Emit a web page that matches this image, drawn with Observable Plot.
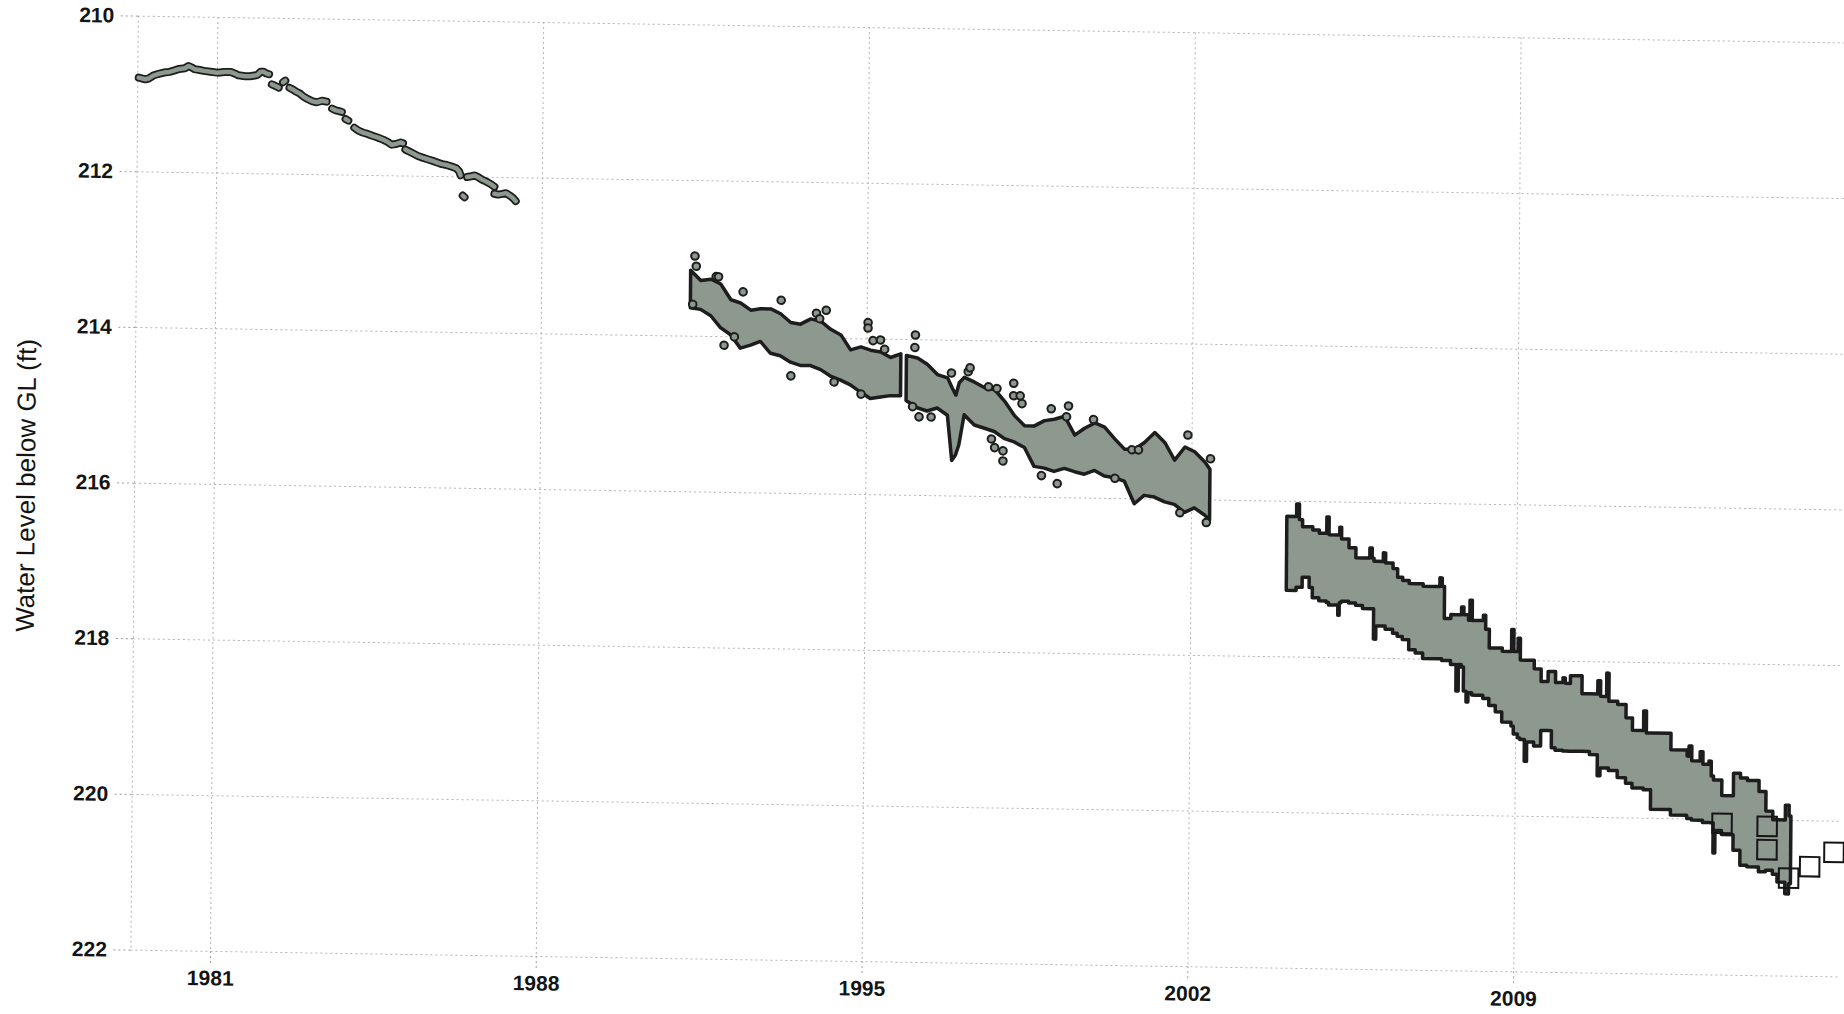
<!DOCTYPE html>
<html>
<head>
<meta charset="utf-8">
<script src="https://cdn.jsdelivr.net/npm/d3@7"></script>
<script src="https://cdn.jsdelivr.net/npm/@observablehq/plot@0.6"></script>
<style>
  html, body { margin: 0; padding: 0; background: #fff; overflow: hidden; }
  #chart svg { display: block; transform: matrix(1, 0.0157, -0.0079, 1, 0, 0); transform-origin: 922px 507px; }
  #chart g[aria-label="x-axis"] line, #chart g[aria-label="y-axis"] line,
  #chart g[aria-label="x-axis tick"], #chart g[aria-label="y-axis tick"],
  #chart g[aria-label="x-axis tick"] path, #chart g[aria-label="y-axis tick"] path {
    stroke: #9c9c9c; stroke-dasharray: 2 3;
  }
</style>
</head>
<body>
<div id="chart"></div>
<script>
// ---- axes ----
const xDomain = [1979.29, 2016.03];
const yDomain = [210, 222];
const xTicks = [1981, 1988, 1995, 2002, 2009];
const yTicks = [210, 212, 214, 216, 218, 220, 222];
const yTitle = "Water Level below GL (ft)";

// ---- 1979-1987 record (runs of measurements; piece id separates gaps) ----
const earlyYear = [1979.31,1979.45,1979.52,1979.62,1979.72,1979.85,1979.97,1980.08,1980.18,1980.30,1980.38,1980.45,1980.51,1980.62,1980.71,1980.85,1981.00,1981.15,1981.29,1981.38,1981.45,1981.60,1981.70,1981.80,1981.86,1981.93,1981.99,1982.05,1982.11,
  1982.17,1982.25,1982.32,
  1982.41,1982.46,
  1982.55,1982.62,1982.70,1982.77,1982.85,1982.94,1983.05,1983.14,1983.25,1983.35,
  1983.47,1983.55,1983.62,1983.68,
  1983.76,1983.82,
  1983.95,1984.05,1984.13,1984.25,1984.34,1984.45,1984.58,1984.68,1984.75,1984.85,1984.95,1985.00,
  1985.05,1985.12,1985.22,1985.32,1985.42,1985.53,1985.64,1985.74,1985.84,1985.94,1986.05,1986.15,1986.21,1986.24,
  1986.29,1986.33,
  1986.38,1986.47,1986.55,1986.62,1986.70,1986.81,1986.90,1986.97,
  1986.97,1987.05,1987.14,1987.22,1987.30,1987.37,1987.43];
const earlyLevel = [210.79,210.81,210.80,210.76,210.74,210.72,210.71,210.69,210.67,210.66,210.63,210.65,210.67,210.68,210.69,210.70,210.71,210.70,210.70,210.72,210.74,210.75,210.75,210.74,210.73,210.69,210.69,210.71,210.72,
  210.85,210.87,210.89,
  210.82,210.80,
  210.89,210.91,210.94,210.96,211.00,211.03,211.06,211.07,211.05,211.06,
  211.15,211.17,211.18,211.19,
  211.28,211.30,
  211.39,211.43,211.45,211.47,211.49,211.51,211.54,211.57,211.60,211.59,211.57,211.58,
  211.66,211.68,211.71,211.74,211.76,211.78,211.80,211.82,211.84,211.85,211.87,211.89,211.93,211.98,
  212.24,212.26,
  212.00,211.99,211.98,212.00,212.03,212.06,212.09,212.12,
  212.21,212.22,212.21,212.20,212.23,212.26,212.30];
const earlyPiece = [1,1,1,1,1,1,1,1,1,1,1,1,1,1,1,1,1,1,1,1,1,1,1,1,1,1,1,1,1,
  2,2,2, 3,3, 4,4,4,4,4,4,4,4,4,4, 5,5,5,5, 6,6,
  7,7,7,7,7,7,7,7,7,7,7,7,
  8,8,8,8,8,8,8,8,8,8,8,8,8,8,
  9,9, 10,10,10,10,10,10,10,10, 11,11,11,11,11,11,11];

// ---- 1991-2002 record: envelope of the dense readings ----
const midYear = [1991.21,1991.43,1991.65,1991.86,1992.08,1992.29,1992.51,1992.72,1992.94,1993.15,1993.37,1993.58,1993.80,1994.02,1994.23,1994.45,1994.66,1994.88,1995.09,1995.31,1995.52,1995.74,
  1995.86,1996.10,1996.31,1996.53,1996.75,1996.85,1996.93,1997.00,1997.11,1997.33,1997.55,1997.76,1997.98,1998.19,1998.41,1998.62,1998.84,1999.05,1999.27,1999.49,1999.70,1999.92,2000.13,2000.35,2000.56,2000.78,2000.99,2001.21,2001.43,2001.64,2001.86,2002.07,2002.29,2002.40];
const midTop = [213.16,213.29,213.27,213.33,213.53,213.57,213.66,213.64,213.64,213.70,213.81,213.83,213.76,213.79,213.89,213.96,214.15,214.11,214.15,214.17,214.24,214.19,
  214.21,214.24,214.32,214.45,214.49,214.62,214.71,214.55,214.48,214.54,214.61,214.63,214.78,214.96,215.09,215.09,215.02,215.00,214.96,215.20,215.11,215.04,215.09,215.24,215.37,215.37,215.28,215.15,215.28,215.50,215.33,215.39,215.52,215.61];
const midBottom = [213.64,213.66,213.74,213.89,213.98,214.15,214.11,214.06,214.21,214.24,214.32,214.36,214.36,214.41,214.49,214.54,214.60,214.69,214.77,214.75,214.73,214.73,
  214.79,214.88,214.92,214.88,214.97,215.55,215.48,215.35,214.96,215.09,215.13,215.17,215.26,215.30,215.37,215.61,215.63,215.67,215.63,215.67,215.70,215.65,215.72,215.74,215.78,216.07,215.96,215.98,216.04,216.07,216.17,216.11,216.20,216.26];
const midPiece = [1,1,1,1,1,1,1,1,1,1,1,1,1,1,1,1,1,1,1,1,1,1,
  2,2,2,2,2,2,2,2,2,2,2,2,2,2,2,2,2,2,2,2,2,2,2,2,2,2,2,2,2,2,2,2,2,2];
// scattered readings outside the band
const midOutYear = [1991.29,1991.32,1991.25,1991.75,1991.80,1992.33,1993.15,1991.93,1992.15,1993.37,1994.12,1993.91,1993.98,1995.02,1995.02,1995.13,1995.29,1995.38,1994.88,1994.30,1996.04,1996.03,1996.13,1996.39,1995.99,1996.82,1997.18,1997.22,1997.62,1997.80,1998.16,1998.16,1998.30,1998.34,1997.69,1997.76,1997.94,1997.94,1998.97,1999.34,1999.30,1999.11,1998.77,1999.88,2000.35,2000.71,2000.85,2001.91,2002.40,2001.75,2002.32];
const midOutLevel = [212.97,213.10,213.59,213.23,213.23,213.42,213.52,214.11,214.00,214.49,213.64,213.68,213.75,213.79,213.86,214.02,214.01,214.13,214.71,214.56,213.94,214.10,214.99,214.99,214.86,214.42,214.40,214.35,214.59,214.61,214.54,214.70,214.70,214.80,215.26,215.37,215.41,215.54,214.86,214.82,214.96,215.82,215.72,214.99,215.74,215.37,215.37,215.17,215.47,216.17,216.29];

// ---- 2004-2015 record: envelope of the transducer readings ----
const lateYear = [2004.06,2004.27,2004.33,2004.40,2004.55,2004.62,2004.76,2004.92,2004.97,2005.17,2005.20,2005.24,2005.40,2005.55,2005.70,2005.85,2005.90,2005.94,2005.99,2006.14,2006.19,2006.35,2006.45,2006.56,2006.70,2006.84,2007.00,2007.36,2007.41,2007.46,2007.60,2007.72,2007.77,2007.83,2007.88,2007.94,2007.98,2008.01,2008.06,2008.14,2008.30,2008.35,2008.43,2008.57,2008.71,2008.91,2008.96,2009.05,2009.10,2009.20,2009.25,2009.40,2009.55,2009.70,2009.78,2009.86,2010.02,2010.07,2010.18,2010.43,2010.60,2010.77,2010.83,2010.96,2011.01,2011.20,2011.38,2011.52,2011.76,2011.82,2011.92,2012.35,2012.70,2012.74,2012.80,2012.98,2013.04,2013.17,2013.22,2013.27,2013.31,2013.45,2013.70,2013.85,2014.00,2014.25,2014.40,2014.55,2014.65,2014.82,2014.90,2014.94];
const lateTop = [216.20,216.04,216.24,216.33,216.33,216.37,216.41,216.20,216.43,216.43,216.33,216.48,216.59,216.72,216.72,216.59,216.72,216.76,216.76,216.65,216.78,216.85,216.96,217.00,217.04,217.04,217.07,216.96,217.07,217.48,217.43,217.43,217.43,217.33,217.43,217.43,217.50,217.24,217.50,217.50,217.43,217.61,217.85,217.85,217.89,217.61,217.89,217.72,218.00,218.00,218.00,218.11,218.27,218.14,218.14,218.28,218.22,218.29,218.19,218.42,218.42,218.25,218.45,218.15,218.51,218.55,218.72,218.88,218.63,218.91,218.91,219.12,219.20,219.07,219.26,219.14,219.30,219.26,219.45,219.50,219.50,219.70,219.41,219.47,219.50,219.64,219.89,220.00,220.00,219.81,219.95,219.95];
const lateBottom = [217.15,217.11,217.11,216.98,217.11,217.24,217.28,217.30,217.33,217.46,217.30,217.28,217.30,217.33,217.37,217.37,217.37,217.76,217.59,217.59,217.63,217.68,217.72,217.76,217.89,217.93,218.00,218.00,218.02,218.02,218.07,218.41,218.07,218.10,218.41,218.55,218.43,218.43,218.46,218.46,218.50,218.50,218.59,218.67,218.80,218.85,218.95,219.00,219.02,219.30,219.05,219.10,218.90,218.90,219.12,219.15,219.16,219.16,219.16,219.16,219.20,219.47,219.37,219.37,219.40,219.49,219.56,219.62,219.64,219.64,219.89,219.96,220.00,220.00,220.02,220.02,220.05,220.05,220.05,220.44,220.15,220.20,220.40,220.59,220.61,220.67,220.65,220.70,220.80,220.95,220.82,220.82];

// ---- manual measurements (open squares) ----
const manualYear = [2013.45, 2014.42, 2014.42, 2014.89, 2015.34, 2015.86];
const manualLevel = [220.05, 220.08, 220.38, 220.74, 220.59, 220.40];

// ---- build tables ----
const early = earlyYear.map((x, i) => ({x, y: earlyLevel[i], piece: earlyPiece[i]}));
const mid = midYear.map((x, i) => ({x, top: midTop[i], bottom: midBottom[i], piece: midPiece[i]}));
const midOut = midOutYear.map((x, i) => ({x, y: midOutLevel[i]}));
const late = lateYear.map((x, i) => ({x, top: lateTop[i], bottom: lateBottom[i]}));
const manual = manualYear.map((x, i) => ({x, y: manualLevel[i]}));

const dark = "#1d1d1d";
const band = "#8d988f";
const grid = {stroke: "#b4b4b4", strokeDasharray: "2,3", strokeWidth: 1};

const chart = Plot.plot({
  width: 1844,
  height: 1014,
  marginLeft: 134,
  marginRight: 0,
  marginTop: 28,
  marginBottom: 52,
  style: {fontFamily: "'Liberation Sans', Arial, sans-serif", fontSize: "21px", fontWeight: "bold", color: "#141414", background: "#fff", overflow: "visible"},
  x: {domain: xDomain, ticks: xTicks, tickFormat: d => String(d), tickSize: 12, tickPadding: 7, label: null},
  y: {domain: yDomain, reverse: true, ticks: yTicks, tickFormat: d => String(d), tickSize: 19, tickPadding: 5, label: null},
  marks: [
    Plot.ruleY(yTicks, grid),
    Plot.ruleX(xTicks, grid),
    Plot.ruleX([xDomain[0]], grid),
    Plot.line(early, {x: "x", y: "y", z: "piece", stroke: dark, strokeWidth: 8, strokeLinecap: "round", strokeLinejoin: "round"}),
    Plot.line(early, {x: "x", y: "y", z: "piece", stroke: band, strokeWidth: 4.5, strokeLinecap: "round", strokeLinejoin: "round"}),
    Plot.areaY(mid, {x: "x", y1: "top", y2: "bottom", z: "piece", fill: band, stroke: dark, strokeWidth: 3.5, strokeLinejoin: "round"}),
    Plot.dot(midOut, {x: "x", y: "y", r: 3.8, fill: band, stroke: dark, strokeWidth: 2}),
    Plot.areaY(late, {x: "x", y1: "top", y2: "bottom", curve: "step-after", fill: band, stroke: dark, strokeWidth: 3.5, strokeLinejoin: "round"}),
    Plot.dot(manual, {x: "x", y: "y", symbol: "square", r: 11, fill: "none", stroke: "#151515", strokeWidth: 2}),
    Plot.text([yTitle], {frameAnchor: "left", textAnchor: "middle", dx: -108, dy: 4, rotate: -90, fontSize: 26, fontWeight: "normal", fill: "#141414"})
  ]
});
document.getElementById("chart").appendChild(chart);
</script>
</body>
</html>
